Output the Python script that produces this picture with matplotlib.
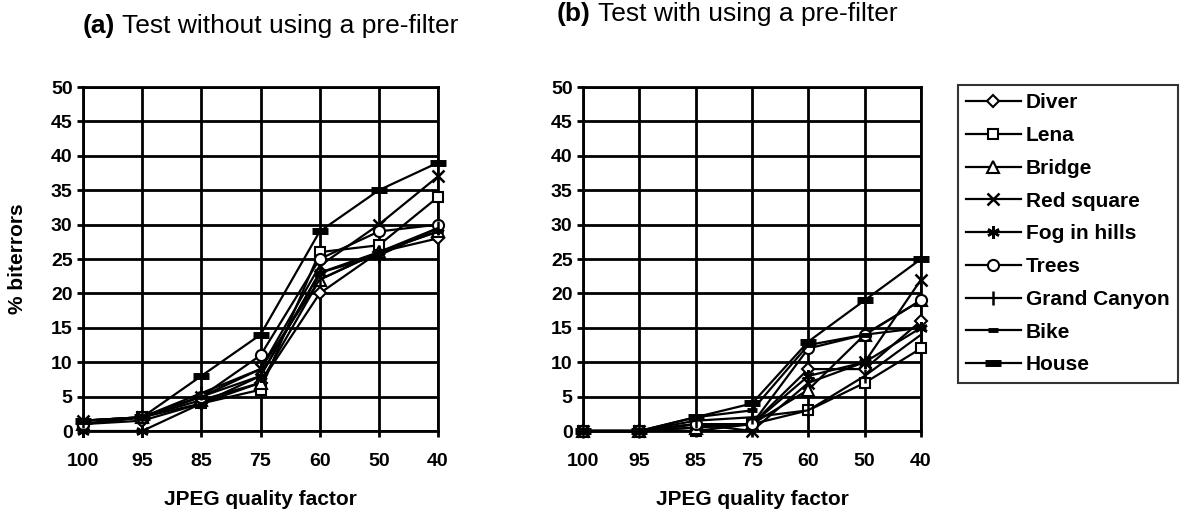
import matplotlib
matplotlib.use("Agg")
import matplotlib.pyplot as plt

plt.rcParams['font.family'] = ['Liberation Sans', 'DejaVu Sans']

quality = ["100", "95", "85", "75", "60", "50", "40"]
series_names = ["Diver", "Lena", "Bridge", "Red square", "Fog in hills", "Trees",
                "Grand Canyon", "Bike", "House"]

# Panel (a): without pre-filter
a_diver = [1, 1.5, 4, 7, 20, 26, 28]
a_lena = [1, 2, 4, 6, 26, 27, 34]
a_bridge = [1, 2, 4.5, 7, 22, 26, 29]
a_red = [1.5, 2, 5, 9, 24, 30, 37]
a_fog = [0, 0, 4, 8, 23, 25.5, 29.5]
a_trees = [1, 2, 5, 11, 25, 29, 30]
a_canyon = [1.5, 2, 5.5, 9, 22, 26, 29.5]
a_bike = [1.5, 2, 5, 8, 23, 26, 29]
a_house = [1.5, 2, 8, 14, 29, 35, 39]

# Panel (b): with pre-filter
b_diver = [0, 0, 0.5, 1, 9, 9, 16]
b_lena = [0, 0, 0, 1, 3, 7, 12]
b_bridge = [0, 0, 0.5, 1, 6, 14, 19]
b_red = [0, 0, 1, 0, 7, 10, 22]
b_fog = [0, 0, 1, 1, 8, 10, 15]
b_trees = [0, 0, 1, 1, 12, 14, 19]
b_canyon = [0, 0, 1.5, 2, 3, 8, 14]
b_bike = [0, 0, 2, 3, 12.5, 14, 15]
b_house = [0, 0, 2, 4, 13, 19, 25]

data_a = [a_diver, a_lena, a_bridge, a_red, a_fog, a_trees, a_canyon, a_bike, a_house]
data_b = [b_diver, b_lena, b_bridge, b_red, b_fog, b_trees, b_canyon, b_bike, b_house]

styles = [
    dict(marker='D', markersize=6.5, markerfacecolor='white', markeredgewidth=1.5),
    dict(marker='s', markersize=7.5, markerfacecolor='white', markeredgewidth=1.5),
    dict(marker='^', markersize=8, markerfacecolor='white', markeredgewidth=1.5),
    dict(marker='x', markersize=9, markeredgewidth=1.8),
    dict(marker=(6, 2, 0), markersize=9, markeredgewidth=1.8),
    dict(marker='o', markersize=8, markerfacecolor='white', markeredgewidth=1.5),
    dict(marker='|', markersize=10, markeredgewidth=1.8),
    dict(marker='_', markersize=7, markeredgewidth=3.5),
    dict(marker='_', markersize=11, markeredgewidth=5),
]

W, H = 1183, 514
fig = plt.figure(figsize=(W / 100, H / 100), dpi=100)

def make_axes(left_px, right_px):
    top_px, bottom_px = 87, 431
    return fig.add_axes([left_px / W, (H - bottom_px) / H,
                         (right_px - left_px) / W, (bottom_px - top_px) / H])

ax_a = make_axes(83, 438)
ax_b = make_axes(583, 921)

x = list(range(len(quality)))
for ax, data in [(ax_a, data_a), (ax_b, data_b)]:
    for name, vals, st in zip(series_names, data, styles):
        ax.plot(x, vals, color='black', linewidth=1.6, markeredgecolor='black',
                clip_on=False, zorder=3, label=name, **st)
    ax.set_xlim(0, 6)
    ax.set_ylim(0, 50)
    ax.set_xticks(x)
    ax.set_xticklabels(quality, fontsize=14, fontweight='bold')
    ax.set_yticks(range(0, 51, 5))
    ax.set_yticklabels([str(v) for v in range(0, 51, 5)], fontsize=14, fontweight='bold')
    ax.grid(True, color='black', linewidth=2)
    ax.set_axisbelow(True)
    for sp in ax.spines.values():
        sp.set_linewidth(2)
        sp.set_color('black')
    ax.tick_params(axis='x', direction='out', length=4.5, width=2, pad=11)
    ax.tick_params(axis='y', direction='out', length=4.5, width=2, pad=3)
    ax.set_xlabel("JPEG quality factor", fontsize=15, fontweight='bold', labelpad=15)

ax_a.set_ylabel("% biterrors", fontsize=15, fontweight='bold', labelpad=17)

def title(x_px, y_px, bold_part, rest):
    t1 = fig.text(x_px / W, 1 - y_px / H, bold_part, ha='left', va='center',
                  fontsize=19, fontweight='bold')
    ax_a.annotate(rest, xy=(1, 0.5), xycoords=t1, xytext=(5, 0),
                  textcoords='offset points', ha='left', va='center', fontsize=19,
                  annotation_clip=False)

title(83, 26, "(a)", "Test without using a pre-filter")
title(557, 14, "(b)", "Test with using a pre-filter")

handles, labels = ax_a.get_legend_handles_labels()
leg = fig.legend(handles, labels, loc='upper left',
                 bbox_to_anchor=(958 / W, 1 - 85 / H),
                 prop={'weight': 'bold', 'size': 15}, frameon=True, fancybox=False,
                 handlelength=2.6, labelspacing=0.66, borderpad=0.4,
                 handletextpad=0.25, borderaxespad=0)
leg.get_frame().set_edgecolor('black')
leg.get_frame().set_linewidth(1.5)

fig.savefig("out.png", dpi=100)
